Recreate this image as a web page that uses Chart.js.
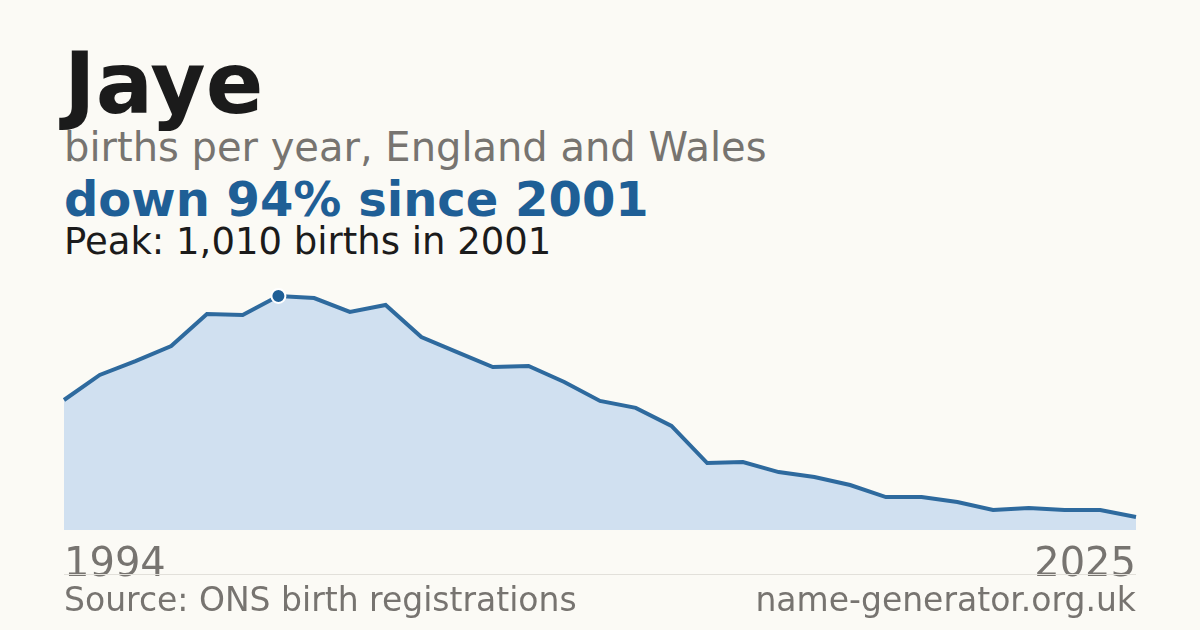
<!DOCTYPE html>
<html>
<head>
<meta charset="utf-8">
<script src="https://cdn.jsdelivr.net/npm/chart.js@4"></script>
<style>
  body { margin:0; width:1200px; height:630px; background:#fbfaf5; font-family:"DejaVu Sans", sans-serif; position:relative; overflow:hidden; }
  .t { position:absolute; left:64px; white-space:nowrap; }
  #name { top:34px; font-size:85px; font-weight:bold; color:#1b1b1b; }
  #sub { top:124px; font-size:40px; color:#777470; }
  #trend { top:171px; font-size:48px; font-weight:bold; color:#1f5f96; }
  #peak { top:220px; font-size:37px; color:#1b1b1b; }
  #wrap { position:absolute; left:60px; top:286px; width:1080px; height:308px; }
  #rule { position:absolute; left:64px; width:1072px; top:574px; border-top:1px solid #e2e0da; }
  .foot { position:absolute; top:580px; font-size:33px; color:#777470; }
</style>
</head>
<body>
<div class="t" id="name">Jaye</div>
<div class="t" id="sub">births per year, England and Wales</div>
<div class="t" id="trend">down 94% since 2001</div>
<div class="t" id="peak">Peak: 1,010 births in 2001</div>
<div id="wrap"><canvas id="myChart"></canvas></div>
<div id="rule"></div>
<div class="foot" style="left:64px">Source: ONS birth registrations</div>
<div class="foot" style="right:64px">name-generator.org.uk</div>
<script>
const years = [1995,1996,1997,1998,1999,2000,2001,2002,2003,2004,2005,2006,2007,2008,2009,2010,
  2011,2012,2013,2014,2015,2016,2017,2018,2019,2020,2021,2022,2023,2024,2025];
const births = [561,669,729,794,932,928,1010,1001,941,971,833,768,703,708,639,557,
  527,449,289,293,250,229,194,142,142,121,86,95,86,86,56];
const tickLabels = ["1994", "2025"];
const peakIndex = 6;

new Chart(document.getElementById("myChart"), {
  type: 'line',
  data: {
    labels: years,
    datasets: [{
      data: births,
      borderColor: "#2e6a9e",
      borderWidth: 4,
      backgroundColor: "#d0e0f0",
      fill: 'origin',
      tension: 0,
      pointRadius: births.map((v, i) => i === peakIndex ? 7 : 0),
      pointBackgroundColor: "#1f5f96",
      pointBorderColor: "#ffffff",
      pointBorderWidth: 2,
      clip: false
    }]
  },
  options: {
    responsive: true,
    maintainAspectRatio: false,
    animation: false,
    layout: { padding: 0 },
    plugins: { legend: { display: false }, tooltip: { enabled: false } },
    scales: {
      x: {
        offset: false,
        grid: { display: false },
        border: { display: false },
        ticks: {
          autoSkip: false,
          maxRotation: 0,
          align: 'inner',
          padding: 4,
          color: "#777470",
          font: { family: "DejaVu Sans", size: 40 },
          callback: (v, i) => i === 0 ? tickLabels[0] : (i === years.length - 1 ? tickLabels[1] : null)
        }
      },
      y: { display: false, min: 0, max: 1053 }
    }
  }
});
</script>
</body>
</html>
